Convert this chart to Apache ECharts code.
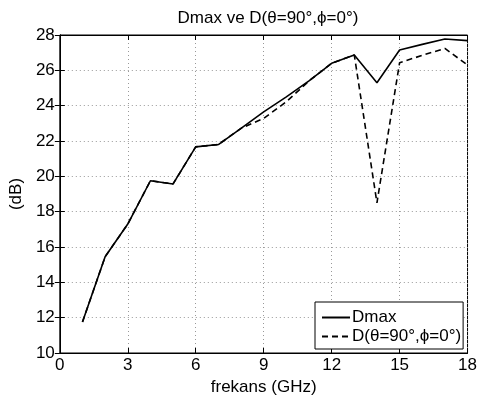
<!DOCTYPE html>
<html><head><meta charset="utf-8">
<script src="https://cdn.jsdelivr.net/npm/echarts@6/dist/echarts.min.js"></script>
<style>html,body{margin:0;padding:0;background:#fff}#c{width:480px;height:401px}</style>
</head><body><div id="c"></div>
<script>
const freq = [1,2,3,4,5,6,7,8,9,10,11,12,13,14,15,16,17,18];
const dmax = [11.75,15.45,17.3,19.75,19.57,21.67,21.8,22.72,23.65,24.5,25.4,26.4,26.87,25.3,27.15,27.47,27.77,27.68];
const d90  = [11.75,15.45,17.3,19.75,19.57,21.67,21.8,22.72,23.28,24.22,25.4,26.4,26.87,18.5,26.43,26.85,27.24,26.3];
const xTicks = [0,3,6,9,12,15,18];
const yTicks = [10,12,14,16,18,20,22,24,26,28];

const FONT = 'Liberation Sans, Arial, sans-serif';
const FS = 17;
const chart = echarts.init(document.getElementById('c'));
const pair = (ys) => freq.map((f,i)=>[f, ys[i]]);
const tickStyle = {show:true, inside:true, length:5, lineStyle:{color:'#000', width:1}};
chart.setOption({
  animation:false,
  textStyle:{fontFamily:FONT},
  title:{text:'Dmax ve D(θ=90°,ϕ=0°)', left:263, top:5, textAlign:'center',
    textStyle:{fontFamily:FONT, fontSize:FS, fontWeight:'normal', color:'#000'}},
  grid:{left:59, right:12, top:35, bottom:48, show:true, borderColor:'#000', borderWidth:1},
  legend:{
    data:[{name:'Dmax'},{name:'D(θ=90°,ϕ=0°)'}],
    orient:'vertical', left:315, top:302,
    backgroundColor:'#fff', borderColor:'#000', borderWidth:1,
    padding:[7,2,4,6], itemGap:2, itemWidth:28, itemHeight:12,
    itemStyle:{opacity:0},
    textStyle:{fontFamily:FONT, fontSize:FS, color:'#000', padding:[0,0,0,-3]}
  },
  xAxis:[{
    type:'value', min:0, max:18, interval:3,
    name:'frekans (GHz)', nameLocation:'middle', nameGap:16,
    nameTextStyle:{fontFamily:FONT, fontSize:FS, color:'#000'},
    axisLine:{show:true, lineStyle:{color:'#000'}},
    axisTick:tickStyle,
    axisLabel:{fontFamily:FONT, fontSize:FS, color:'#000', margin:4,
      formatter:(v)=> xTicks.includes(v)? String(v):''},
    splitLine:{show:true, lineStyle:{color:'#999', type:[1,3], width:1}}
  },{
    type:'value', min:0, max:18, interval:3, position:'top',
    axisLine:{show:true, lineStyle:{color:'#000'}}, axisTick:tickStyle,
    axisLabel:{show:false}, splitLine:{show:false}
  }],
  yAxis:[{
    type:'value', min:10, max:28, interval:2,
    name:'(dB)', nameLocation:'middle', nameGap:29, nameRotate:90,
    nameTextStyle:{fontFamily:FONT, fontSize:FS, color:'#000'},
    axisLine:{show:true, lineStyle:{color:'#000'}},
    axisTick:tickStyle,
    axisLabel:{fontFamily:FONT, fontSize:FS, color:'#000', margin:5,
      formatter:(v)=> yTicks.includes(v)? String(v):''},
    splitLine:{show:true, lineStyle:{color:'#999', type:[1,3], width:1}}
  },{
    type:'value', min:10, max:28, interval:2, position:'right',
    axisLine:{show:true, lineStyle:{color:'#000'}}, axisTick:tickStyle,
    axisLabel:{show:false}, splitLine:{show:false}
  }],
  series:[{
    name:'Dmax', type:'line', data:pair(dmax), symbol:'none',
    lineStyle:{color:'#000', width:1.6, type:'solid'}, itemStyle:{color:'#000'}, z:3
  },{
    name:'D(θ=90°,ϕ=0°)', type:'line', data:pair(d90), symbol:'none',
    lineStyle:{color:'#000', width:1.6, type:[6,4]}, itemStyle:{color:'#000'}, z:2
  }]
});
</script></body></html>
